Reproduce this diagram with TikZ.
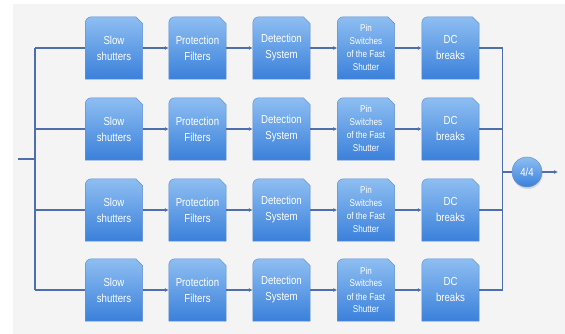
\documentclass[tikz,border=0pt]{standalone}
\usepackage{fontspec}
\setmainfont{Liberation Sans}[FakeStretch=0.83]
\usetikzlibrary{arrows.meta}

\definecolor{panelgray}{RGB}{244,244,244}
\definecolor{wire}{RGB}{78,110,172}
\definecolor{boxtop}{RGB}{142,190,242}
\definecolor{boxbottom}{RGB}{58,128,218}
\definecolor{boxedge}{RGB}{98,146,212}

\pgfdeclarelayer{panel}
\pgfdeclarelayer{background}
\pgfsetlayers{panel,background,main}

% outline of a block: rounded top-left corner, clipped top-right corner
\newcommand\blockoutline[1]{%
  (#1.south west) -- ([yshift=-6pt]#1.north west)
  arc[start angle=180,end angle=90,radius=6pt]
  -- ([xshift=-7pt]#1.north east) -- ([yshift=-7pt]#1.north east)
  -- (#1.south east) -- cycle}

\tikzset{
  blk/.style={minimum width=57pt, minimum height=62pt, inner sep=0pt,
    align=center, text=white, font=\fontsize{11.6}{16}\selectfont},
  small/.style={font=\fontsize{9.8}{13}\selectfont},
  wireline/.style={draw=wire, line width=1.3pt},
  flow/.style={wireline, -{Latex[length=4pt,width=4pt]}},
  boxfill/.style={top color=boxtop, bottom color=boxbottom, draw=boxedge, line width=0.5pt},
  shadowfill/.style={fill=black, opacity=0.12},
}

\begin{document}
\begin{tikzpicture}[x=1pt,y=1pt]
\useasboundingbox (0,0) rectangle (565,334);
\begin{pgfonlayer}{panel}
  \fill[panelgray] (13,0) rectangle (565,330);
\end{pgfonlayer}

% four identical chains of five blocks
\foreach \r/\y in {1/286,2/205,3/124,4/44}{
  \foreach \c/\x/\txt/\sty in {1/114/{Slow\\shutters}/blk,
                               2/197.5/{Protection\\Filters}/blk,
                               3/281.5/{Detection\\System}/blk,
                               4/366/{Pin\\Switches\\of the Fast\\Shutter}/small,
                               5/450.5/{DC\\breaks}/blk}{
    \node[blk,\sty] (b\r\c) at (\x,\y) {\txt};
    \begin{pgfonlayer}{background}
      \fill[shadowfill, xshift=0.6pt, yshift=-2pt] \blockoutline{b\r\c};
      \shade[boxfill] \blockoutline{b\r\c};
    \end{pgfonlayer}
  }
  \draw[flow] (b\r1.east) -- (b\r2.west);
  \draw[flow] (b\r2.east) -- (b\r3.west);
  \draw[flow] (b\r3.east) -- (b\r4.west);
  \draw[flow] (b\r4.east) -- (b\r5.west);
}

% voting node
\node[circle, minimum size=30pt, inner sep=0pt, text=white,
      font=\fontsize{11.6}{13}\selectfont] (vote) at (527,162) {4/4};
\begin{pgfonlayer}{background}
  \fill[shadowfill] ([xshift=0.6pt,yshift=-2pt]vote.center) circle[radius=15pt];
  \shade[boxfill] (vote.center) circle[radius=15pt];
\end{pgfonlayer}

% input split and output merge
\coordinate (in) at (18,175);
\coordinate (lt) at (35,286);
\coordinate (lb) at (35,44);
\coordinate (rt) at (502.5,286);
\coordinate (rb) at (502.5,44);
\coordinate (out) at (558,162);

\draw[wireline] (lt) -- (lb);
\draw[wireline] (in) -- (in -| lt);
\draw[wireline] (rt) -- (rb);
\foreach \r in {1,2,3,4}{
  \draw[wireline] (b\r1.west -| lt) -- (b\r1.west);
  \draw[wireline] (b\r5.east) -- (b\r5.east -| rt);
}
\draw[wireline] (vote.west -| rt) -- (vote.west);
\draw[flow] (vote.east) -- (out);
\end{tikzpicture}
\end{document}
